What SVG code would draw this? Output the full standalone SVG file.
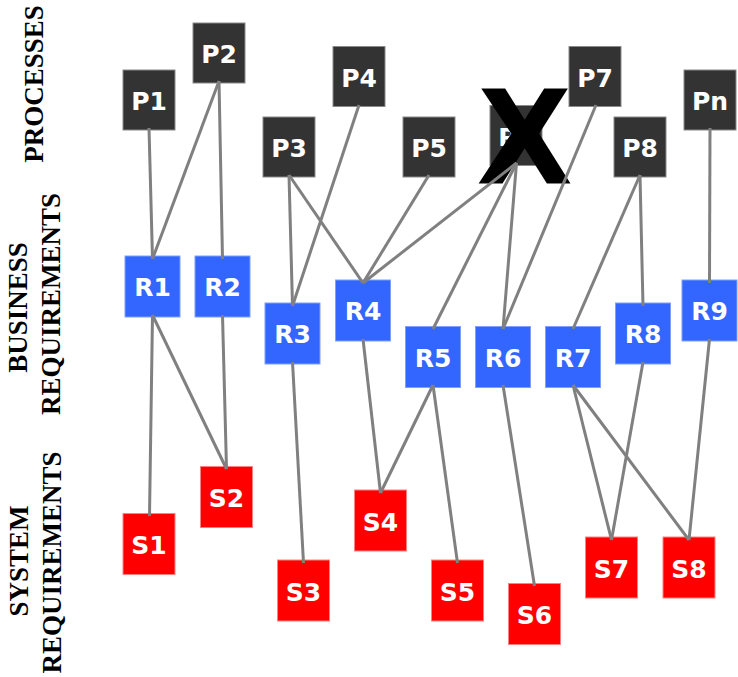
<svg xmlns="http://www.w3.org/2000/svg" width="738" height="677" viewBox="0 0 738 677">
<style>
.side{font-family:"Liberation Serif","Times New Roman",serif;font-weight:bold;font-size:27px;fill:#000;text-anchor:middle}
.lbl{font-family:"DejaVu Sans",Verdana,sans-serif;font-weight:bold;font-size:25px;fill:#fff;text-anchor:middle}
.p rect{fill:#333333;stroke:#8a8a8a;stroke-width:1}
.r rect{fill:#3366ff;stroke:#7fa0ff;stroke-width:1}
.s rect{fill:#ff0000;stroke:#ff8080;stroke-width:1}
#connectors line{stroke:#808080;stroke-width:3;fill:none}
</style>
<rect width="738" height="677" fill="#ffffff"/>
<g id="labels">
<text class="side" transform="translate(43,84) rotate(-90)">PROCESSES</text>
<text class="side" transform="translate(27,307.5) rotate(-90)">BUSINESS</text>
<text class="side" transform="translate(60,304) rotate(-90)">REQUIREMENTS</text>
<text class="side" transform="translate(28,561) rotate(-90)">SYSTEM</text>
<text class="side" transform="translate(61,562.5) rotate(-90)">REQUIREMENTS</text>
</g>
<g id="P1" class="p"><rect x="123" y="70" width="52" height="60"/><text class="lbl" x="149" y="110">P1</text></g>
<g id="P2" class="p"><rect x="193" y="23" width="52" height="60"/><text class="lbl" x="219" y="63">P2</text></g>
<g id="P3" class="p"><rect x="263" y="117" width="52" height="60"/><text class="lbl" x="289" y="157">P3</text></g>
<g id="P4" class="p"><rect x="333" y="46.5" width="52" height="60"/><text class="lbl" x="359" y="86.5">P4</text></g>
<g id="P5" class="p"><rect x="403" y="117" width="52" height="60"/><text class="lbl" x="429" y="157">P5</text></g>
<g id="P6" class="p"><rect x="490" y="105.5" width="52" height="60"/><text class="lbl" x="516" y="145.5">P6</text></g>
<g id="P7" class="p"><rect x="569" y="46.5" width="52" height="60"/><text class="lbl" x="595" y="86.5">P7</text></g>
<g id="P8" class="p"><rect x="614" y="117" width="52" height="60"/><text class="lbl" x="640" y="157">P8</text></g>
<g id="Pn" class="p"><rect x="684" y="70" width="52" height="60"/><text class="lbl" x="710" y="110">Pn</text></g>
<g id="X"><text x="524.5" y="182" font-family="Liberation Sans,Arial,sans-serif" font-weight="bold" font-size="133" text-anchor="middle" fill="#000" stroke="#000" stroke-width="3">X</text></g>
<g id="R1" class="r"><rect x="125" y="256" width="55" height="61"/><text class="lbl" x="152.5" y="296">R1</text></g>
<g id="R2" class="r"><rect x="195" y="256" width="55" height="61"/><text class="lbl" x="222.5" y="296">R2</text></g>
<g id="R3" class="r"><rect x="265" y="303" width="55" height="61"/><text class="lbl" x="292.5" y="343">R3</text></g>
<g id="R4" class="r"><rect x="335.5" y="280" width="55" height="61"/><text class="lbl" x="363" y="320">R4</text></g>
<g id="R5" class="r"><rect x="405.5" y="326.5" width="55" height="61"/><text class="lbl" x="433" y="366.5">R5</text></g>
<g id="R6" class="r"><rect x="475.5" y="326.5" width="55" height="61"/><text class="lbl" x="503" y="366.5">R6</text></g>
<g id="R7" class="r"><rect x="545.5" y="326.5" width="55" height="61"/><text class="lbl" x="573" y="366.5">R7</text></g>
<g id="R8" class="r"><rect x="615.5" y="303" width="55" height="61"/><text class="lbl" x="643" y="343">R8</text></g>
<g id="R9" class="r"><rect x="682" y="280" width="55" height="61"/><text class="lbl" x="709.5" y="320">R9</text></g>
<g id="S1" class="s"><rect x="123" y="513.5" width="52" height="61"/><text class="lbl" x="149" y="554">S1</text></g>
<g id="S2" class="s"><rect x="200.5" y="466.5" width="52" height="61"/><text class="lbl" x="226.5" y="507">S2</text></g>
<g id="S3" class="s"><rect x="277.5" y="560" width="52" height="61"/><text class="lbl" x="303.5" y="600.5">S3</text></g>
<g id="S4" class="s"><rect x="354.5" y="490" width="52" height="61"/><text class="lbl" x="380.5" y="530.5">S4</text></g>
<g id="S5" class="s"><rect x="431.5" y="560" width="52" height="61"/><text class="lbl" x="457.5" y="600.5">S5</text></g>
<g id="S6" class="s"><rect x="508.5" y="583.5" width="52" height="61"/><text class="lbl" x="534.5" y="624">S6</text></g>
<g id="S7" class="s"><rect x="585.5" y="537" width="52" height="61"/><text class="lbl" x="611.5" y="577.5">S7</text></g>
<g id="S8" class="s"><rect x="663" y="537" width="52" height="61"/><text class="lbl" x="689" y="577.5">S8</text></g>
<g id="connectors">
<line x1="149" y1="128" x2="152.5" y2="259"/>
<line x1="219" y1="81" x2="152.5" y2="259"/>
<line x1="219" y1="81" x2="222.5" y2="259"/>
<line x1="289" y1="175" x2="292.5" y2="306"/>
<line x1="289" y1="175" x2="363" y2="283"/>
<line x1="359" y1="105" x2="292.5" y2="306"/>
<line x1="429" y1="175" x2="363" y2="283"/>
<line x1="516.5" y1="163" x2="363" y2="283"/>
<line x1="516.5" y1="163" x2="433" y2="329"/>
<line x1="516.5" y1="163" x2="503" y2="329"/>
<line x1="596" y1="105" x2="503" y2="329"/>
<line x1="640" y1="175" x2="573" y2="329"/>
<line x1="640" y1="175" x2="643" y2="306"/>
<line x1="710" y1="128" x2="709.5" y2="283"/>
<line x1="152.5" y1="315" x2="149.5" y2="516"/>
<line x1="152.5" y1="315" x2="226.5" y2="469"/>
<line x1="222.5" y1="315" x2="226.5" y2="469"/>
<line x1="292.5" y1="362" x2="303.5" y2="563"/>
<line x1="363" y1="339" x2="380.5" y2="493"/>
<line x1="433" y1="385" x2="380.5" y2="493"/>
<line x1="433" y1="385" x2="457.5" y2="563"/>
<line x1="503" y1="385" x2="534.5" y2="586"/>
<line x1="573" y1="385" x2="611.5" y2="540"/>
<line x1="573" y1="385" x2="689" y2="540"/>
<line x1="643" y1="362" x2="611.5" y2="540"/>
<line x1="709.5" y1="339" x2="689" y2="540"/>
</g>
</svg>
